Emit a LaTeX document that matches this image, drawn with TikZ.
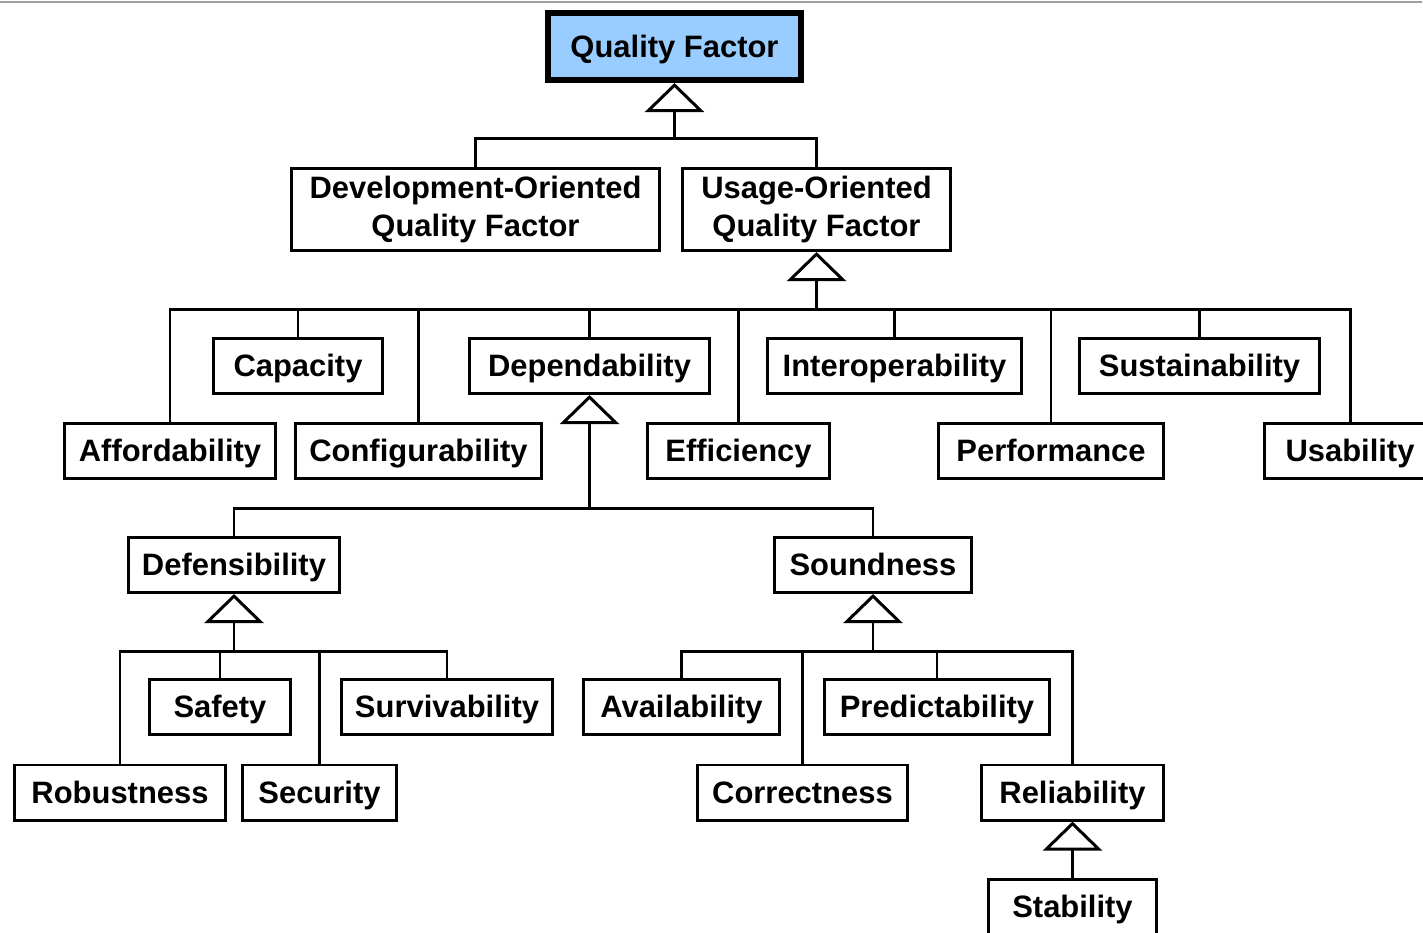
\documentclass[tikz,border=0pt]{standalone}
\usepackage{fontspec}
\setmainfont{Liberation Sans}
\usepackage{xcolor}
\definecolor{qf-blue}{HTML}{99CCFF}
\definecolor{qf-rule}{HTML}{A0A0A0}
\usepackage{tikz}
\usetikzlibrary{arrows.meta}

\tikzset{
  factorbase/.style={draw, line width=0.85pt, minimum height=0.55cm, inner sep=0pt,
    align=center, font=\fontsize{8.8}{10.8}\selectfont\bfseries},
  factor/.style={factorbase, text height=0.8em, text depth=0.18em},
  link/.style={line width=0.85pt},
  gen/.style={link, -{Triangle[open, width=0.59cm, length=0.29cm, line width=0.85pt]}}
}

\begin{document}
\begin{tikzpicture}[x=0.01cm, y=-0.01cm]

    % Frame
    \useasboundingbox (0, 0) rectangle (1423, 932);
    \clip (0, 0) rectangle (1423, 932);
    \draw[qf-rule, line width=0.6pt] (0, 2) -- (1422, 2);

    % Root
    \node[factor, fill=qf-blue, line width=1.7pt, minimum width=2.53cm, minimum height=0.67cm]
        (qf) at (674.5, 46.5) {Quality Factor};

    % Second level
    \node[factorbase, minimum width=3.68cm, minimum height=0.82cm] (dev) at (475.5, 209.5)
        {Development-Oriented\\Quality Factor};
    \node[factorbase, minimum width=2.68cm, minimum height=0.82cm] (usage) at (816.5, 209.5)
        {Usage-Oriented\\Quality Factor};

    % Usage-oriented factors
    \node[factor, minimum width=1.69cm] (capacity) at (298, 366) {Capacity};
    \node[factor, minimum width=2.40cm] (depend) at (589.5, 366) {Dependability};
    \node[factor, minimum width=2.54cm] (interop) at (894.5, 366) {Interoperability};
    \node[factor, minimum width=2.40cm] (sustain) at (1199.5, 366) {Sustainability};
    \node[factor, minimum width=2.11cm] (afford) at (170, 451) {Affordability};
    \node[factor, minimum width=2.46cm] (config) at (418.5, 451) {Configurability};
    \node[factor, minimum width=1.82cm] (effic) at (738.5, 451) {Efficiency};
    \node[factor, minimum width=2.25cm] (perf) at (1051, 451) {Performance};
    \node[factor, minimum width=1.71cm] (usab) at (1350, 451) {Usability};

    % Dependability
    \node[factor, minimum width=2.11cm] (defens) at (234, 565) {Defensibility};
    \node[factor, minimum width=1.97cm] (sound) at (873, 565) {Soundness};

    % Defensibility
    \node[factor, minimum width=1.40cm] (safety) at (220, 707) {Safety};
    \node[factor, minimum width=2.11cm] (surviv) at (447, 707) {Survivability};
    \node[factor, minimum width=2.11cm] (robust) at (120, 792.5) {Robustness};
    \node[factor, minimum width=1.54cm] (security) at (319.5, 792.5) {Security};

    % Soundness
    \node[factor, minimum width=1.96cm] (avail) at (681.5, 707) {Availability};
    \node[factor, minimum width=2.25cm] (predict) at (937, 707) {Predictability};
    \node[factor, minimum width=2.10cm] (correct) at (802.5, 792.5) {Correctness};
    \node[factor, minimum width=1.82cm] (reliab) at (1072.5, 792.5) {Reliability};
    \node[factor, minimum width=1.68cm] (stab) at (1072.5, 907) {Stability};

    % Bars
    \coordinate (bar-qf) at (0, 138);
    \coordinate (bar-us) at (0, 309);
    \coordinate (bar-dep) at (0, 508);
    \coordinate (bar-low) at (0, 651);
    \coordinate (qf-j) at (qf.south |- bar-qf);
    \coordinate (us-j) at (usage.south |- bar-us);
    \coordinate (dep-j) at (depend.south |- bar-dep);
    \coordinate (def-j) at (defens.south |- bar-low);
    \coordinate (snd-j) at (sound.south |- bar-low);

    % Generalizations
    \draw[gen] (qf-j) -- (qf);
    \foreach \c in {dev, usage}
        \draw[link] (qf-j) -| (\c);

    \draw[gen] (us-j) -- (usage);
    \foreach \c in {capacity, depend, interop, sustain, afford, config, effic, perf, usab}
        \draw[link] (us-j) -| (\c);

    \draw[gen] (dep-j) -- (depend);
    \foreach \c in {defens, sound}
        \draw[link] (dep-j) -| (\c);

    \draw[gen] (def-j) -- (defens);
    \foreach \c in {safety, surviv, robust, security}
        \draw[link] (def-j) -| (\c);

    \draw[gen] (snd-j) -- (sound);
    \foreach \c in {avail, predict, correct, reliab}
        \draw[link] (snd-j) -| (\c);

    \draw[gen] (stab) -- (reliab);

\end{tikzpicture}
\end{document}
